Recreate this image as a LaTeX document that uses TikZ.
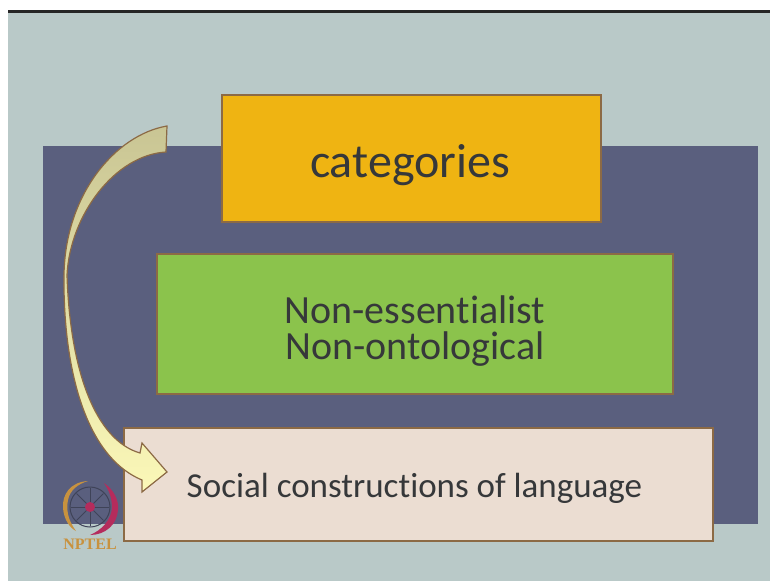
\documentclass[tikz,border=0pt]{standalone}
\usepackage{fontspec}
\setmainfont[Ligatures=NoCommon]{Carlito}
\newfontfamily\logofont{Liberation Serif}
\definecolor{slidebg}{HTML}{B9C9C8}
\definecolor{panelblue}{HTML}{5A5F7E}
\definecolor{boxyellow}{HTML}{EFB412}
\definecolor{boxgreen}{HTML}{8BC34C}
\definecolor{boxpink}{HTML}{EBDDD2}
\definecolor{edgebrown}{HTML}{8C6A45}
\definecolor{textgrey}{HTML}{36383A}
\definecolor{arrowtop}{HTML}{C9C594}
\definecolor{arrowbottom}{HTML}{FBF8B8}
\definecolor{logoorange}{HTML}{C8923F}
\definecolor{logored}{HTML}{B52C5C}
\tikzset{
  slidebox/.style={draw=edgebrown,line width=1.2pt,inner sep=0pt,text=textgrey,align=center},
  logospoke/.style={draw=panelblue!70!black,line width=1pt}
}
\begin{document}
\begin{tikzpicture}[x=1pt,y=-1pt]
\useasboundingbox (0,0) rectangle (770,581);
\fill[white] (0,0) rectangle (770,581);
\fill[slidebg] (8,10) rectangle (770,581);
\fill[black!85] (8,10) rectangle (770,12.5);
\node (panel) at (400.5,335) [fill=panelblue,minimum width=715pt,minimum height=378pt,inner sep=0pt] {};
\node (cat) at (411.5,158.5) [slidebox,fill=boxyellow,minimum width=379pt,minimum height=127pt] {};
\node (cattext) at (410,165) [text=textgrey,inner sep=0pt,font=\fontsize{48}{50}\selectfont] {categories};
\node (noness) at (415,324) [slidebox,fill=boxgreen,minimum width=516pt,minimum height=140pt] {};
\node (nonesstext) at (415,310) [text=textgrey,inner sep=0pt,font=\fontsize{40}{40}\selectfont] {Non-essentialist};
\node (nonontext) at (415,349) [text=textgrey,inner sep=0pt,font=\fontsize{40}{40}\selectfont] {Non-ontological};
\node (social) at (418.5,484.5) [slidebox,fill=boxpink,minimum width=589pt,minimum height=113pt] {};
\node (socialtext) at (414.5,488) [text=textgrey,inner sep=0pt,font=\fontsize{35}{36}\selectfont] {Social constructions of language};
% curved arrow
\draw[edgebrown,line width=1.2pt,top color=arrowtop,bottom color=arrowbottom]
  (167,126) .. controls (115,135) and (65,195) .. (64,275)
  .. controls (63,360) and (82,455) .. (142,480)
  -- (142,492) -- (167,472) -- (142,443) -- (140,453)
  .. controls (95,440) and (70,370) .. (67,275)
  .. controls (70,215) and (115,155) .. (166,152) -- cycle;
% logo
\coordinate (logoc) at (90,507);
\foreach \a in {0,45,...,315} {
\draw[logospoke] (logoc) -- ++(\a:19);
}
\draw[logospoke] (logoc) circle (20);
\fill[logored] (logoc) circle (5);
\fill[logoorange] (88,481) .. controls (70,482) and (62,495) .. (63,508) .. controls (64,520) and (70,528) .. (76,531) .. controls (68,520) and (66,510) .. (68,500) .. controls (70,490) and (78,484) .. (88,481) -- cycle;
\fill[logored] (104,483) .. controls (114,490) and (119,500) .. (118,510) .. controls (117,525) and (105,535) .. (90,535) .. controls (102,530) and (111,520) .. (112,508) .. controls (112,498) and (109,490) .. (104,483) -- cycle;
\node (nptel) at (90,544) [text=logoorange,inner sep=0pt,font=\logofont\bfseries\fontsize{16}{16}\selectfont] {NPTEL};
\end{tikzpicture}
\end{document}
